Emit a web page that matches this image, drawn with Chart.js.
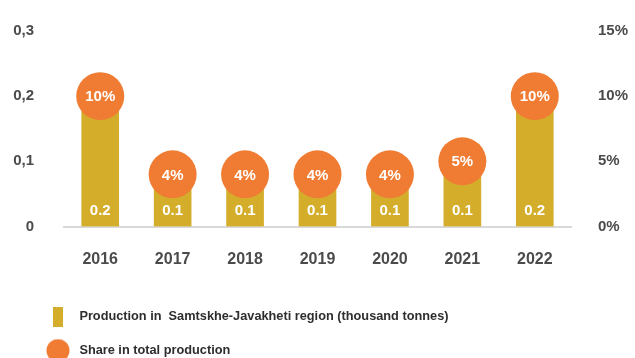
<!DOCTYPE html>
<html>
<head>
<meta charset="utf-8">
<title>Samtskhe-Javakheti production</title>
<script src="https://cdn.jsdelivr.net/npm/chart.js@4/dist/chart.umd.min.js"></script>
<style>
  html, body { margin: 0; padding: 0; background: #fff; overflow: hidden; }
  #wrap { width: 635px; height: 367px; position: relative; }
</style>
</head>
<body>
<div id="wrap"><canvas id="productionChart"></canvas></div>
<script>
// Production (thousand tonnes) and share in total production, by year
const years = ['2016', '2017', '2018', '2019', '2020', '2021', '2022'];
const production = [0.2, 0.1, 0.1, 0.1, 0.1, 0.1, 0.2];
const share = [10, 4, 4, 4, 4, 5, 10];
const productionTicks = ['0', '0,1', '0,2', '0,3'];
const shareTicks = ['0%', '5%', '10%', '15%'];

const GOLD = '#d4ae2b';
const ORANGE = '#ef7c32';
const AXIS_TEXT = '#4b4b4b';
const FONT = 'Helvetica, Arial, "Liberation Sans", sans-serif';
const LEGEND_INDENT = 22;

// small canvases used as legend markers
function marker(w, h, draw) {
    const c = document.createElement('canvas');
    c.width = w;
    c.height = h;
    draw(c.getContext('2d'));
    return c;
}
const barMarker = marker(10, 20, function(g) {
    g.fillStyle = GOLD;
    g.fillRect(0, 0, 10, 20);
});
const dotMarker = marker(24, 24, function(g) {
    g.fillStyle = ORANGE;
    g.beginPath();
    g.arc(12, 12, 11.5, 0, Math.PI * 2);
    g.fill();
});
const legendMarkers = [barMarker, dotMarker];

// white value labels inside bars and circles
const valueLabels = {
    id: 'valueLabels',
    afterDatasetsDraw(chart) {
        const ctx = chart.ctx;
        ctx.save();
        ctx.fillStyle = '#ffffff';
        ctx.textAlign = 'center';
        ctx.textBaseline = 'middle';
        ctx.font = 'bold 15px ' + FONT;
        chart.getDatasetMeta(0).data.forEach(function(bar, i) {
            ctx.fillText(production[i].toFixed(1), bar.x, bar.base - 16);
        });
        chart.getDatasetMeta(1).data.forEach(function(pt, i) {
            ctx.fillText(share[i] + '%', pt.x, pt.y + 1);
        });
        ctx.restore();
    }
};

// indent the stacked legend rows without squeezing the left axis
const legendIndent = {
    id: 'legendIndent',
    afterLayout(chart) {
        if (chart.legend) {
            chart.legend.left += LEGEND_INDENT;
        }
    }
};

// fixed axis width; the wide tick padding should not push the plot area down
function fixedWidth(width) {
    return function(scale) {
        scale.width = width;
        scale.paddingTop = 0;
        scale.paddingBottom = 0;
    };
}

const ctx = document.getElementById('productionChart').getContext('2d');
const productionChart = new Chart(ctx, {
    type: 'bar',
    data: {
        labels: years,
        datasets: [{
            label: 'Production in  Samtskhe-Javakheti region (thousand tonnes)',
            data: production,
            backgroundColor: GOLD,
            barThickness: 37,
            yAxisID: 'y',
            order: 1
        }, {
            type: 'line',
            label: 'Share in total production',
            data: share,
            showLine: false,
            pointRadius: 24,
            pointHoverRadius: 24,
            pointBackgroundColor: ORANGE,
            pointBorderWidth: 0,
            backgroundColor: ORANGE,
            clip: false,
            yAxisID: 'y1',
            order: 0
        }]
    },
    options: {
        responsive: true,
        maintainAspectRatio: false,
        animation: false,
        events: [],
        layout: {
            autoPadding: false,
            padding: { top: 31, left: 0, right: 0, bottom: 0 }
        },
        plugins: {
            tooltip: { enabled: false },
            legend: {
                position: 'bottom',
                align: 'start',
                labels: {
                    usePointStyle: true,
                    pointStyleWidth: 30,
                    padding: 21,
                    color: '#2e2e2e',
                    font: { family: FONT, size: 12.75, weight: 'bold' },
                    sort: function(a, b) { return a.datasetIndex - b.datasetIndex; },
                    generateLabels: function(chart) {
                        const items = Chart.defaults.plugins.legend.labels.generateLabels(chart);
                        items.forEach(function(item) {
                            item.pointStyle = legendMarkers[item.datasetIndex];
                        });
                        return items;
                    }
                }
            }
        },
        scales: {
            x: {
                grid: { display: false, drawTicks: false },
                border: { display: true, color: '#d9d9d9', width: 2 },
                ticks: {
                    padding: 23,
                    color: AXIS_TEXT,
                    font: { family: FONT, size: 16, weight: 'bold' }
                },
                afterFit: function(scale) { scale.height = 63; }
            },
            y: {
                position: 'left',
                min: 0,
                max: 0.3,
                grid: { display: false, drawTicks: false },
                border: { display: false },
                ticks: {
                    stepSize: 0.1,
                    padding: 30,
                    color: AXIS_TEXT,
                    font: { family: FONT, size: 15, weight: 'bold' },
                    callback: function(value, index) { return productionTicks[index]; }
                },
                afterFit: fixedWidth(64)
            },
            y1: {
                position: 'right',
                min: 0,
                max: 15,
                grid: { display: false, drawTicks: false },
                border: { display: false },
                ticks: {
                    stepSize: 5,
                    padding: 27,
                    color: AXIS_TEXT,
                    font: { family: FONT, size: 15, weight: 'bold' },
                    callback: function(value, index) { return shareTicks[index]; }
                },
                afterFit: fixedWidth(64)
            }
        }
    },
    plugins: [valueLabels, legendIndent]
});
</script>
</body>
</html>
